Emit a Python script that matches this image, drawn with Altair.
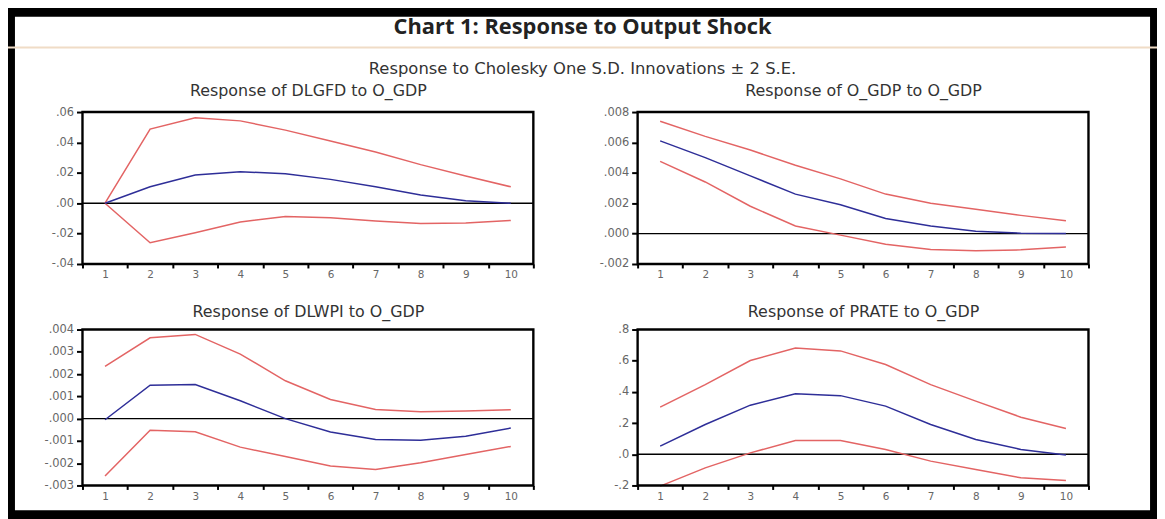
import altair as alt
import pandas as pd

# ---------------- data ----------------
HEADER = "Chart 1: Response to Output Shock"
SUBTITLE = "Response to Cholesky One S.D. Innovations ± 2 S.E."
periods = list(range(1, 11))
series_names = ["-2 S.E.", "+2 S.E.", "Response"]
series_colors = ["#e36464", "#e36464", "#2e2e98"]

panel_titles = [
    "Response of DLGFD to O_GDP",
    "Response of O_GDP to O_GDP",
    "Response of DLWPI to O_GDP",
    "Response of PRATE to O_GDP",
]

dlgfd_resp = [0.0, 0.0108, 0.0185, 0.0207, 0.0194, 0.0157, 0.0108, 0.0054, 0.0017, 0.0]
dlgfd_upper = [0.0, 0.0488, 0.0563, 0.0542, 0.0481, 0.0410, 0.0337, 0.0254, 0.0179, 0.0108]
dlgfd_lower = [0.0, -0.0260, -0.0195, -0.0124, -0.0087, -0.0095, -0.0117, -0.0134, -0.0130, -0.0113]

ogdp_resp = [0.0061, 0.0050, 0.0038, 0.0026, 0.0019, 0.0010, 0.0005, 0.00015, 0.00003, 0.0]
ogdp_upper = [0.0074, 0.0064, 0.0055, 0.0045, 0.0036, 0.0026, 0.0020, 0.0016, 0.0012, 0.00085]
ogdp_lower = [0.00475, 0.0034, 0.0018, 0.0005, -0.0001, -0.0007, -0.00105, -0.00113, -0.00107, -0.00088]

dlwpi_resp = [-0.00005, 0.0015, 0.00153, 0.0008, 0.0, -0.0006, -0.00094, -0.00097, -0.00079, -0.00042]
dlwpi_upper = [0.00235, 0.00363, 0.00378, 0.0029, 0.0017, 0.00086, 0.00041, 0.00031, 0.00034, 0.0004]
dlwpi_lower = [-0.00258, -0.00052, -0.00059, -0.00128, -0.0017, -0.00213, -0.00228, -0.00198, -0.00161, -0.00125]

prate_resp = [0.052, 0.191, 0.315, 0.388, 0.376, 0.309, 0.191, 0.095, 0.031, -0.005]
prate_upper = [0.302, 0.447, 0.601, 0.682, 0.663, 0.576, 0.447, 0.341, 0.238, 0.165]
prate_lower = [-0.204, -0.087, 0.009, 0.0885, 0.0885, 0.031, -0.044, -0.097, -0.151, -0.168]

y_domains = [[-0.04, 0.06], [-0.002, 0.008], [-0.003, 0.004], [-0.2, 0.8]]
y_ticks = [
    [-0.04, -0.02, 0.0, 0.02, 0.04, 0.06],
    [-0.002, 0.0, 0.002, 0.004, 0.006, 0.008],
    [-0.003, -0.002, -0.001, 0.0, 0.001, 0.002, 0.003, 0.004],
    [-0.2, 0.0, 0.2, 0.4, 0.6, 0.8],
]
y_decimals = [2, 3, 3, 1]
x_ticks = [i / 2 for i in range(1, 22)]

# ---------------- layout ----------------
W, H = 1157, 511
COLS = [(75, 529), (634, 1088)]
ROWS = [(256, 103), (479, 322)]
TITLE_ABOVE = 175
LABEL_FONT = "DejaVu Sans"
LABEL_COLOR = "#666666"


def make_panel(i, resp, upper, lower):
    x0, x1 = COLS[i % 2]
    yb, yt = ROWS[i // 2]
    df = pd.DataFrame({
        "period": periods * 3,
        "value": lower + upper + resp,
        "series": [series_names[0]] * 10 + [series_names[1]] * 10 + [series_names[2]] * 10,
    })

    def xs():
        return alt.Scale(domain=[0.5, 10.5], range=[x0, x1], nice=False, zero=False)

    def ys():
        return alt.Scale(domain=y_domains[i], range=[yb, yt], nice=False, zero=False)

    d = y_decimals[i]
    ylab = "replace(replace(format(datum.value, '.%df'), '0.', '.'), '\u2212', '-')" % d
    xaxis = alt.Axis(
        orient="bottom", offset=yb - H, values=x_ticks,
        labelExpr="datum.value % 1 == 0 ? format(datum.value, 'd') : ''",
        tickOpacity={"condition": {"test": "datum.value % 1 == 0", "value": 0}, "value": 1},
        domain=False, grid=False, tickSize=4, tickWidth=2, tickColor="black",
        labelPadding=2, labelFont=LABEL_FONT, labelFontSize=10.5, labelColor=LABEL_COLOR,
        labelFlush=False, labelOverlap=False,
        title=panel_titles[i], titleX=(x0 + x1) / 2, titleY=-TITLE_ABOVE,
        titleAlign="center", titleBaseline="middle", titleFont=LABEL_FONT,
        titleFontSize=16, titleFontWeight="normal", titleColor="#333333",
    )
    yaxis = alt.Axis(
        orient="left", offset=-x0, values=y_ticks[i], labelExpr=ylab,
        domain=False, grid=False, tickSize=6, tickWidth=2, tickColor="black",
        labelPadding=3, labelFont=LABEL_FONT, labelFontSize=11.5, labelColor=LABEL_COLOR,
        labelFlush=False, labelOverlap=False, title=None,
    )
    zero = alt.Chart(pd.DataFrame({"zero": [0.0]})).mark_rule(color="black", strokeWidth=1.4).encode(
        y=alt.Y("zero:Q", scale=ys(), axis=None),
        x=alt.XDatum(0.5, type="quantitative", scale=xs(), axis=None),
        x2=alt.X2Datum(10.5),
    )
    lines = alt.Chart(df).mark_line(strokeWidth=1.5).encode(
        x=alt.X("period:Q", scale=xs(), axis=xaxis),
        y=alt.Y("value:Q", scale=ys(), axis=yaxis),
        color=alt.Color("series:N", scale=alt.Scale(domain=series_names, range=series_colors), legend=None),
    )
    frame = alt.Chart(pd.DataFrame({"frame": [0]})).mark_rect(
        fillOpacity=0, stroke="black", strokeWidth=2.4
    ).encode(
        x=alt.XDatum(0.5, type="quantitative", scale=xs(), axis=None),
        x2=alt.X2Datum(10.5),
        y=alt.YDatum(y_domains[i][0], type="quantitative", scale=ys(), axis=None),
        y2=alt.Y2Datum(y_domains[i][1]),
    )
    return [zero, lines, frame]


layers = []
layers += make_panel(0, dlgfd_resp, dlgfd_upper, dlgfd_lower)
layers += make_panel(1, ogdp_resp, ogdp_upper, ogdp_lower)
layers += make_panel(2, dlwpi_resp, dlwpi_upper, dlwpi_lower)
layers += make_panel(3, prate_resp, prate_upper, prate_lower)

header = alt.Chart(pd.DataFrame({"label": [HEADER]})).mark_text(
    font="Open Sans", fontSize=22, fontWeight="bold", color="#222222",
    align="center", baseline="middle",
).encode(text="label:N", x=alt.value(W / 2), y=alt.value(17))

header_line = alt.Chart(pd.DataFrame({"line": [0]})).mark_rule(
    color="#f0dcc6", strokeWidth=2
).encode(x=alt.value(0), x2=alt.value(W), y=alt.value(38))

subtitle = alt.Chart(pd.DataFrame({"label": [SUBTITLE]})).mark_text(
    font=LABEL_FONT, fontSize=16.5, color="#333333", align="center", baseline="middle",
).encode(text="label:N", x=alt.value(W / 2), y=alt.value(60))

chart = alt.layer(header, header_line, subtitle, *layers).resolve_scale(
    x="independent", y="independent"
).properties(
    width=W, height=H, autosize=alt.AutoSizeParams(type="none"), padding=0, background="white"
).configure_view(stroke="black", strokeWidth=14)

chart.save("out.html", embed_options={"renderer": "svg", "actions": False})
